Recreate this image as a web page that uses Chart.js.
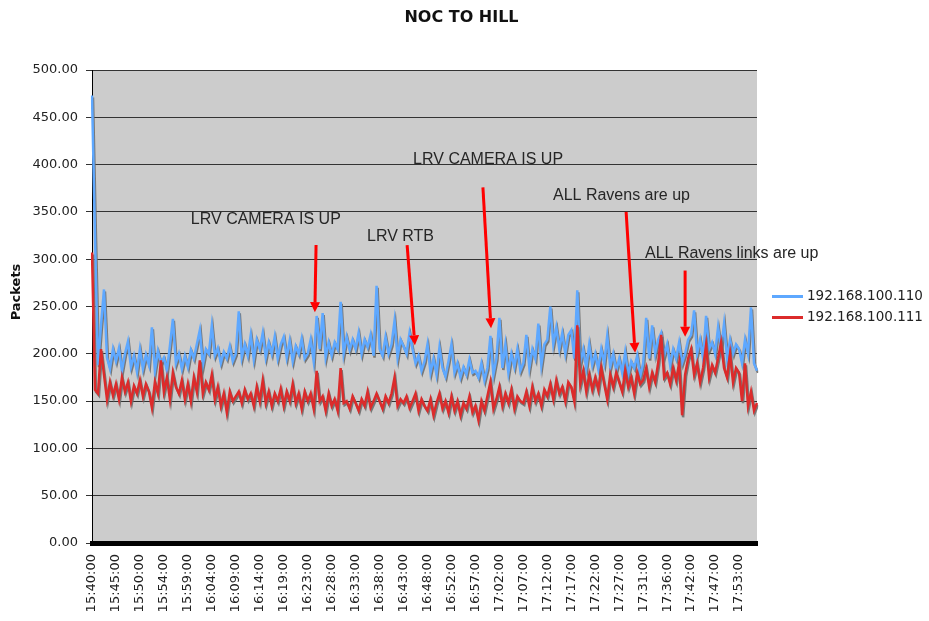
<!DOCTYPE html>
<html>
<head>
<meta charset="utf-8">
<title>NOC TO HILL</title>
<script src="https://cdn.jsdelivr.net/npm/chart.js@4.4.1/dist/chart.umd.min.js"></script>
<style>
  html, body { margin: 0; padding: 0; background: #fff; overflow: hidden; }
  #wrap { width: 929px; height: 621px; position: relative; }
</style>
</head>
<body>
<div id="wrap"><canvas id="myChart"></canvas></div>
<script>
// tick labels, one every 8 samples
var timeTicks = ['15:40:00','15:45:00','15:50:00','15:54:00','15:59:00','16:04:00','16:09:00',
  '16:14:00','16:19:00','16:23:00','16:28:00','16:33:00','16:38:00','16:43:00','16:48:00',
  '16:52:00','16:57:00','17:02:00','17:07:00','17:12:00','17:17:00','17:22:00','17:27:00',
  '17:31:00','17:36:00','17:42:00','17:47:00','17:53:00'];
var samplesPerTick = 8;

var chartTitle = 'NOC TO HILL';
var seriesNames = ['192.168.100.110', '192.168.100.111'];

// packets, 192.168.100.110
var host110 = [
  473,325,188,230,268,196,184,205,
  192,206,182,200,213,186,198,181,
  205,184,199,188,228,182,203,190,
  196,182,208,237,190,200,184,198,
  186,204,195,210,225,188,205,200,
  230,198,206,190,202,195,208,192,
  200,245,196,210,198,220,194,215,
  205,222,196,212,200,218,195,210,
  218,196,214,192,208,200,216,195,
  200,215,192,240,205,243,196,212,
  198,212,205,255,200,218,204,215,
  205,222,200,215,207,220,198,272,
  205,198,218,200,210,235,196,215,
  208,200,222,205,190,198,182,192,
  210,180,195,178,207,185,176,192,
  210,180,190,175,186,178,194,180,
  182,175,190,172,185,219,178,195,
  238,185,210,180,200,186,205,182,
  190,220,185,205,195,232,188,210,
  215,250,210,228,205,222,200,220,
  225,195,267,190,205,185,210,188,
  200,184,205,190,219,186,200,182,
  195,180,202,178,192,185,198,176,
  190,238,195,230,200,215,222,198,
  210,188,205,195,212,190,200,215,
  220,246,200,215,195,240,205,212,
  200,228,205,232,195,215,200,210,
  205,190,215,200,249,190,182
];

// packets, 192.168.100.111
var host111 = [
  307,162,158,205,178,152,170,156,
  168,152,175,160,170,150,166,158,
  172,155,168,160,143,170,158,193,
  160,175,152,180,165,158,172,152,
  168,150,175,160,193,158,170,162,
  178,152,165,145,158,138,160,150,
  155,160,148,162,152,158,145,165,
  150,172,148,160,145,158,150,163,
  145,160,150,168,148,158,142,160,
  150,158,142,182,150,155,140,158,
  145,152,140,185,148,150,142,155,
  148,140,152,145,160,143,150,158,
  150,142,155,148,158,175,145,152,
  148,155,143,150,158,140,152,145,
  140,152,135,148,158,142,150,138,
  155,140,150,135,148,142,155,138,
  145,130,150,140,155,170,142,152,
  165,145,158,148,162,142,155,150,
  148,160,145,165,150,158,145,162,
  155,168,152,172,158,165,150,170,
  165,150,230,168,182,160,178,162,
  175,162,185,168,152,178,165,180,
  170,160,182,165,175,158,180,168,
  172,185,165,180,170,190,220,175,
  180,168,185,172,190,135,178,195,
  205,178,190,170,185,209,175,188,
  180,195,212,185,175,200,170,185,
  180,150,190,145,160,140,148
];

// notes on the chart: [sample index, packets]
var noteTexts = ['LRV CAMERA IS UP', 'LRV RTB', 'LRV CAMERA IS UP', 'ALL Ravens are up', 'ALL Ravens links are up'];
var noteAt    = [[33.0, 337], [91.8, 319], [107.2, 401], [153.9, 363], [184.6, 301]];
var arrowFrom = [[74.8, 315], [105.2, 315], [130.5, 376], [178.3, 350], [198.0, 288]];
var arrowTo   = [[74.4, 244], [107.8, 209], [133.2, 227], [181.3, 201], [198.0, 218]];

var colors = ['#5ea8ff', '#dc2b2b'];

var categories = host110.map(function (v, i) {
  return i % samplesPerTick === 0 ? (timeTicks[i / samplesPerTick] || '') : '';
});

var plotBackground = {
  id: 'plotBackground',
  beforeDraw: function (chart) {
    var a = chart.chartArea, ctx = chart.ctx;
    ctx.save();
    ctx.fillStyle = '#cccccc';
    ctx.fillRect(a.left, a.top, a.right - a.left, a.bottom - a.top);
    ctx.restore();
  }
};

var lineShadow = {
  id: 'lineShadow',
  beforeDatasetDraw: function (chart) {
    var ctx = chart.ctx;
    ctx.save();
    ctx.shadowColor = 'rgba(110,110,110,0.9)';
    ctx.shadowOffsetX = 1;
    ctx.shadowOffsetY = 2;
    ctx.shadowBlur = 0;
  },
  afterDatasetDraw: function (chart) {
    chart.ctx.restore();
  }
};

var notes = {
  id: 'notes',
  afterDatasetsDraw: function (chart) {
    var ctx = chart.ctx, x = chart.scales.x, y = chart.scales.y;
    ctx.save();
    ctx.font = '16px "Liberation Sans", Arial, sans-serif';
    ctx.fillStyle = '#262626';
    ctx.textBaseline = 'alphabetic';
    ctx.textAlign = 'left';
    for (var i = 0; i < noteTexts.length; i++) {
      ctx.fillText(noteTexts[i], x.getPixelForValue(noteAt[i][0]), y.getPixelForValue(noteAt[i][1]));
    }
    ctx.strokeStyle = '#ff0000';
    ctx.fillStyle = '#ff0000';
    ctx.lineWidth = 3;
    for (var j = 0; j < arrowFrom.length; j++) {
      var x1 = x.getPixelForValue(arrowFrom[j][0]), y1 = y.getPixelForValue(arrowFrom[j][1]);
      var x2 = x.getPixelForValue(arrowTo[j][0]), y2 = y.getPixelForValue(arrowTo[j][1]);
      var ang = Math.atan2(y2 - y1, x2 - x1);
      var head = 10, half = 5;
      var bx = x2 - head * Math.cos(ang), by = y2 - head * Math.sin(ang);
      ctx.beginPath();
      ctx.moveTo(x1, y1);
      ctx.lineTo(bx, by);
      ctx.stroke();
      ctx.beginPath();
      ctx.moveTo(x2, y2);
      ctx.lineTo(bx + half * Math.sin(ang), by - half * Math.cos(ang));
      ctx.lineTo(bx - half * Math.sin(ang), by + half * Math.cos(ang));
      ctx.closePath();
      ctx.fill();
    }
    ctx.restore();
  }
};

var sideLegend = {
  id: 'sideLegend',
  afterDraw: function (chart) {
    var a = chart.chartArea, ctx = chart.ctx;
    var mid = (a.top + a.bottom) / 2;
    ctx.save();
    ctx.font = '13.5px "DejaVu Sans", sans-serif';
    ctx.textBaseline = 'middle';
    ctx.textAlign = 'left';
    for (var i = 0; i < seriesNames.length; i++) {
      var yy = Math.round(mid - 10.5 + i * 21) + 0.5;
      ctx.strokeStyle = colors[i];
      ctx.lineWidth = 3;
      ctx.beginPath();
      ctx.moveTo(a.right + 15, yy);
      ctx.lineTo(a.right + 46, yy);
      ctx.stroke();
      ctx.fillStyle = '#222';
      ctx.fillText(seriesNames[i], a.right + 50, yy);
    }
    ctx.restore();
  }
};

var titles = {
  id: 'titles',
  afterDraw: function (chart) {
    var ctx = chart.ctx;
    ctx.save();
    ctx.fillStyle = '#111';
    ctx.textAlign = 'center';
    ctx.textBaseline = 'middle';
    ctx.font = 'bold 16px "DejaVu Sans", sans-serif';
    ctx.fillText(chartTitle, chart.width / 2 - 3, 18);
    ctx.translate(17, 292);
    ctx.rotate(-Math.PI / 2);
    ctx.font = 'bold 13px "DejaVu Sans", sans-serif';
    ctx.fillText('Packets', 0, 0);
    ctx.restore();
  }
};

var ctx = document.getElementById('myChart');
var myChart = new Chart(ctx, {
  type: 'line',
  data: {
    labels: categories,
    datasets: [
      {
        label: seriesNames[1],
        data: host111,
        borderColor: colors[1],
        backgroundColor: colors[1],
        borderWidth: 2.5,
        pointRadius: 0,
        tension: 0,
        order: 0
      },
      {
        label: seriesNames[0],
        data: host110,
        borderColor: colors[0],
        backgroundColor: colors[0],
        borderWidth: 2.5,
        pointRadius: 0,
        tension: 0,
        order: 1
      }
    ]
  },
  options: {
    responsive: true,
    maintainAspectRatio: false,
    animation: false,
    layout: { padding: { left: 0, right: 172, top: 70, bottom: 0 } },
    plugins: {
      legend: { display: false },
      tooltip: { enabled: false },
      title: { display: false }
    },
    scales: {
      x: {
        type: 'category',
        grid: { display: false, drawTicks: true, tickLength: 8 },
        border: { display: true, color: '#000', width: 5 },
        ticks: {
          autoSkip: false,
          maxRotation: 90,
          minRotation: 90,
          padding: 3,
          color: '#222',
          font: { family: 'DejaVu Sans', size: 13 }
        },
        afterFit: function (scale) { scale.height = 78; }
      },
      y: {
        min: 0,
        max: 500,
        grid: { color: '#333', lineWidth: 1, tickLength: 6, tickColor: '#333' },
        border: { display: true, color: '#000', width: 1 },
        ticks: {
          stepSize: 50,
          padding: 8,
          color: '#222',
          font: { family: 'DejaVu Sans', size: 13 },
          callback: function (v) { return v.toFixed(2); }
        },
        afterFit: function (scale) { scale.width = 92; }
      }
    }
  },
  plugins: [plotBackground, lineShadow, notes, sideLegend, titles]
});
</script>
</body>
</html>
